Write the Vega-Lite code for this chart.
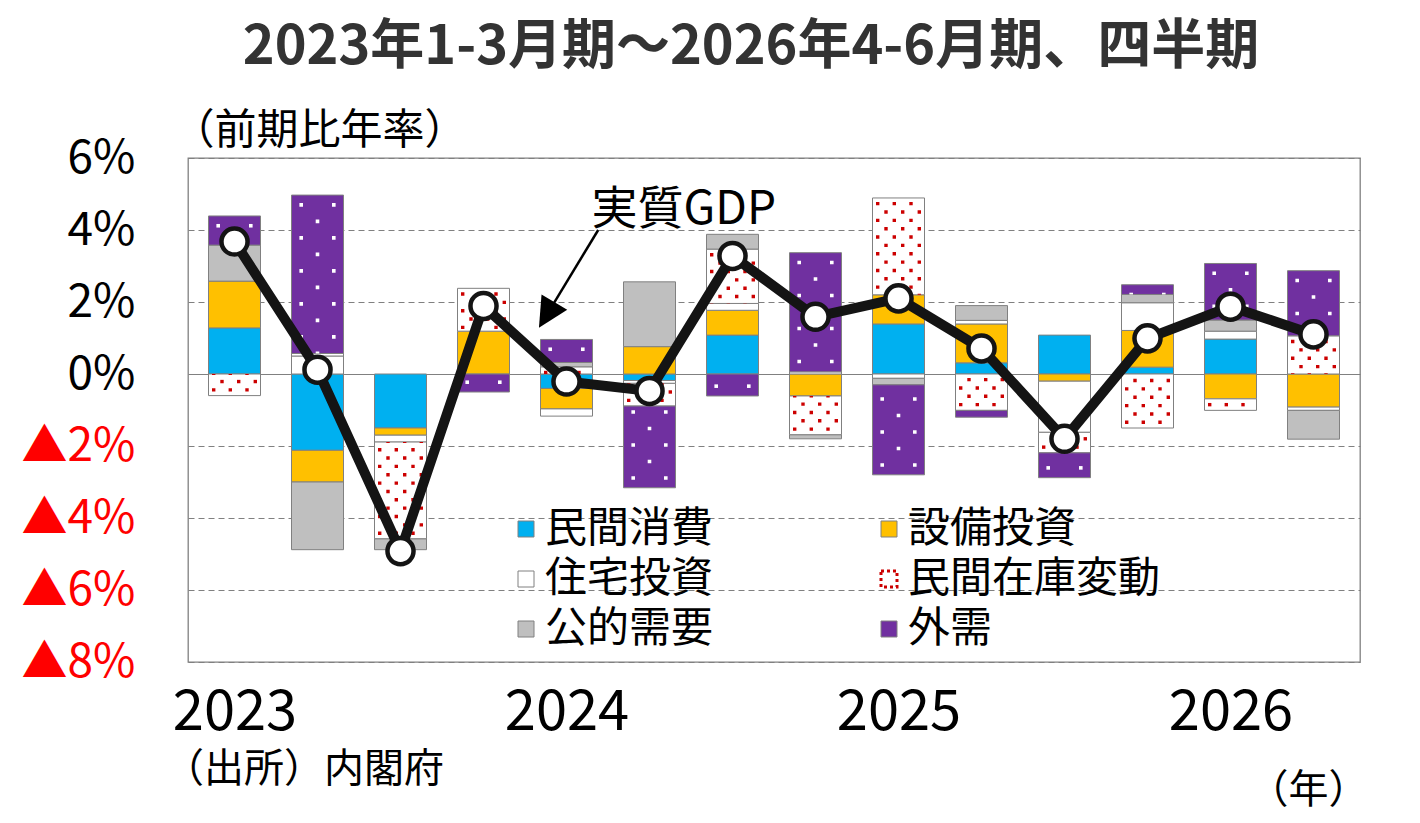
{
  "$schema": "https://vega.github.io/schema/vega-lite/v6.json",
  "autosize": "none",
  "padding": {"left": 188, "top": 158, "right": 60, "bottom": 161},
  "width": 1172,
  "height": 504,
  "config": {
    "font": "Noto Sans CJK JP",
    "view": {"stroke": "#808080", "strokeWidth": 1.3}
  },
  "title": {
    "text": "2023年1-3月期～2026年4-6月期、四半期",
    "frame": "group",
    "anchor": "middle",
    "dx": -23,
    "offset": 34,
    "fontSize": 54,
    "fontWeight": "bold",
    "color": "#333333"
  },
  "datasets": {
    "series": [
      {"s": "民間消費", "k": 1},
      {"s": "設備投資", "k": 2},
      {"s": "住宅投資", "k": 3},
      {"s": "民間在庫変動", "k": 4},
      {"s": "公的需要", "k": 5},
      {"s": "外需", "k": 6}
    ],
    "parts": [
      {"q": 0, "s": "民間消費", "v": 1.28},
      {"q": 0, "s": "設備投資", "v": 1.30},
      {"q": 0, "s": "民間在庫変動", "v": -0.60},
      {"q": 0, "s": "公的需要", "v": 1.00},
      {"q": 0, "s": "外需", "v": 0.81},
      {"q": 1, "s": "民間消費", "v": -2.12},
      {"q": 1, "s": "設備投資", "v": -0.88},
      {"q": 1, "s": "住宅投資", "v": 0.50},
      {"q": 1, "s": "民間在庫変動", "v": 0.07},
      {"q": 1, "s": "公的需要", "v": -1.88},
      {"q": 1, "s": "外需", "v": 4.40},
      {"q": 2, "s": "民間消費", "v": -1.50},
      {"q": 2, "s": "設備投資", "v": -0.20},
      {"q": 2, "s": "住宅投資", "v": -0.19},
      {"q": 2, "s": "民間在庫変動", "v": -2.69},
      {"q": 2, "s": "公的需要", "v": -0.30},
      {"q": 3, "s": "設備投資", "v": 1.19},
      {"q": 3, "s": "民間在庫変動", "v": 1.19},
      {"q": 3, "s": "外需", "v": -0.50},
      {"q": 4, "s": "民間消費", "v": -0.40},
      {"q": 4, "s": "設備投資", "v": -0.57},
      {"q": 4, "s": "住宅投資", "v": -0.20},
      {"q": 4, "s": "民間在庫変動", "v": 0.20},
      {"q": 4, "s": "公的需要", "v": 0.12},
      {"q": 4, "s": "外需", "v": 0.64},
      {"q": 5, "s": "民間消費", "v": -0.18},
      {"q": 5, "s": "設備投資", "v": 0.76},
      {"q": 5, "s": "住宅投資", "v": -0.08},
      {"q": 5, "s": "民間在庫変動", "v": -0.63},
      {"q": 5, "s": "公的需要", "v": 1.80},
      {"q": 5, "s": "外需", "v": -2.27},
      {"q": 6, "s": "民間消費", "v": 1.08},
      {"q": 6, "s": "設備投資", "v": 0.69},
      {"q": 6, "s": "住宅投資", "v": 0.19},
      {"q": 6, "s": "民間在庫変動", "v": 1.51},
      {"q": 6, "s": "公的需要", "v": 0.41},
      {"q": 6, "s": "外需", "v": -0.61},
      {"q": 7, "s": "設備投資", "v": -0.61},
      {"q": 7, "s": "住宅投資", "v": 0.06},
      {"q": 7, "s": "民間在庫変動", "v": -1.08},
      {"q": 7, "s": "公的需要", "v": -0.11},
      {"q": 7, "s": "外需", "v": 3.31},
      {"q": 8, "s": "民間消費", "v": 1.39},
      {"q": 8, "s": "設備投資", "v": 0.81},
      {"q": 8, "s": "住宅投資", "v": -0.12},
      {"q": 8, "s": "民間在庫変動", "v": 2.69},
      {"q": 8, "s": "公的需要", "v": -0.18},
      {"q": 8, "s": "外需", "v": -2.50},
      {"q": 9, "s": "民間消費", "v": 0.31},
      {"q": 9, "s": "設備投資", "v": 1.08},
      {"q": 9, "s": "住宅投資", "v": 0.10},
      {"q": 9, "s": "民間在庫変動", "v": -1.01},
      {"q": 9, "s": "公的需要", "v": 0.41},
      {"q": 9, "s": "外需", "v": -0.19},
      {"q": 10, "s": "民間消費", "v": 1.08},
      {"q": 10, "s": "設備投資", "v": -0.20},
      {"q": 10, "s": "住宅投資", "v": -1.42},
      {"q": 10, "s": "民間在庫変動", "v": -0.57},
      {"q": 10, "s": "外需", "v": -0.69},
      {"q": 11, "s": "民間消費", "v": 0.19},
      {"q": 11, "s": "設備投資", "v": 1.02},
      {"q": 11, "s": "住宅投資", "v": 0.77},
      {"q": 11, "s": "民間在庫変動", "v": -1.50},
      {"q": 11, "s": "公的需要", "v": 0.23},
      {"q": 11, "s": "外需", "v": 0.27},
      {"q": 12, "s": "民間消費", "v": 0.97},
      {"q": 12, "s": "設備投資", "v": -0.69},
      {"q": 12, "s": "住宅投資", "v": 0.22},
      {"q": 12, "s": "民間在庫変動", "v": -0.32},
      {"q": 12, "s": "公的需要", "v": 0.31},
      {"q": 12, "s": "外需", "v": 1.57},
      {"q": 13, "s": "設備投資", "v": -0.92},
      {"q": 13, "s": "住宅投資", "v": -0.09},
      {"q": 13, "s": "民間在庫変動", "v": 1.06},
      {"q": 13, "s": "公的需要", "v": -0.80},
      {"q": 13, "s": "外需", "v": 1.81}
    ],
    "gdp": [
      {"q": 0, "gdp": 3.68},
      {"q": 1, "gdp": 0.12},
      {"q": 2, "gdp": -4.92},
      {"q": 3, "gdp": 1.89},
      {"q": 4, "gdp": -0.21},
      {"q": 5, "gdp": -0.47},
      {"q": 6, "gdp": 3.28},
      {"q": 7, "gdp": 1.59},
      {"q": 8, "gdp": 2.10},
      {"q": 9, "gdp": 0.71},
      {"q": 10, "gdp": -1.80},
      {"q": 11, "gdp": 0.99},
      {"q": 12, "gdp": 1.87},
      {"q": 13, "gdp": 1.10}
    ]
  },
  "layer": [
    {
      "data": {"name": "parts"},
      "transform": [
        {"lookup": "s", "from": {"data": {"name": "series"}, "key": "s", "fields": ["k"]}},
        {"stack": "v", "groupby": ["q"], "sort": [{"field": "k", "order": "ascending"}], "as": ["v0", "v1"]}
      ],
      "encoding": {
        "x": {
          "field": "q",
          "type": "quantitative",
          "scale": {"domain": [-0.5, 13.5], "nice": false, "zero": false},
          "axis": {
            "title": "（年）",
            "values": [0, 4, 8, 12],
            "labelExpr": "'' + (2023 + datum.value / 4)",
            "grid": false,
            "ticks": false,
            "domain": false,
            "labelFlush": false,
            "labelOverlap": false,
            "labelFontSize": 56,
            "labelColor": "#000000",
            "labelPadding": 23,
            "titleFontSize": 40,
            "titleFontWeight": "normal",
            "titleColor": "#000000",
            "titleAlign": "right",
            "titleBaseline": "middle",
            "titleX": 1180,
            "titleY": 128
          }
        },
        "y": {
          "field": "v1",
          "type": "quantitative",
          "scale": {"domain": [-8, 6], "nice": false, "zero": false},
          "axis": {
            "title": "（前期比年率）",
            "values": [-8, -6, -4, -2, 0, 2, 4, 6],
            "labelExpr": "datum.value < 0 ? '▲' + (-datum.value) + '%' : datum.value + '%'",
            "labelColor": {"condition": {"test": "datum.value < 0", "value": "#FF0000"}, "value": "#000000"},
            "labelFontSize": 46,
            "labelPadding": 53,
            "labelFlush": false,
            "labelOverlap": false,
            "ticks": false,
            "domain": false,
            "grid": true,
            "gridColor": "#808080",
            "gridWidth": 1.2,
            "gridDash": {"condition": {"test": "datum.value === 0", "value": []}, "value": [6, 4]},
            "titleAngle": 0,
            "titleAlign": "left",
            "titleBaseline": "middle",
            "titleX": -16,
            "titleY": -28,
            "titleFontSize": 42,
            "titleFontWeight": "normal",
            "titleColor": "#000000"
          }
        },
        "y2": {"field": "v0"}
      },
      "layer": [
        {
          "mark": {"type": "bar", "width": 52, "stroke": "#808080", "strokeWidth": 1},
          "encoding": {
            "fill": {
              "field": "s",
              "type": "nominal",
              "scale": {
                "domain": ["民間消費", "設備投資", "住宅投資", "民間在庫変動", "公的需要", "外需"],
                "range": ["#00B0F0", "#FFC000", "#FFFFFF", "#FFFFFF", "#BFBFBF", "#7030A0"]
              },
              "legend": {
                "title": null,
                "orient": "none",
                "direction": "horizontal",
                "legendX": 317,
                "legendY": 350,
                "columns": 2,
                "gridAlign": "all",
                "padding": 0,
                "symbolType": "square",
                "symbolSize": 256,
                "symbolStrokeColor": "#808080",
                "symbolStrokeWidth": 1,
                "labelFontSize": 42,
                "labelColor": "#000000",
                "labelOffset": -2,
                "labelLimit": 400,
                "columnPadding": 70,
                "rowPadding": 8,
                "encode": {
                  "symbols": {
                    "update": {
                      "stroke": {"signal": "datum.value === '民間在庫変動' ? '#CC0000' : '#808080'"},
                      "strokeDash": {"signal": "datum.value === '民間在庫変動' ? [3, 3] : [1, 0]"},
                      "strokeWidth": {"signal": "datum.value === '民間在庫変動' ? 3 : 1"}
                    }
                  }
                }
              }
            }
          }
        },
        {
          "transform": [{"filter": "datum.s === '民間在庫変動'"}],
          "layer": [
            {"mark": {"type": "rule", "xOffset": -20.8, "stroke": "#CC0000", "strokeWidth": 3.4, "strokeDash": [3.4, 13.3], "strokeDashOffset": -4}},
            {"mark": {"type": "rule", "xOffset": -12.5, "stroke": "#CC0000", "strokeWidth": 3.4, "strokeDash": [3.4, 13.3], "strokeDashOffset": -12.35}},
            {"mark": {"type": "rule", "xOffset": -4.2, "stroke": "#CC0000", "strokeWidth": 3.4, "strokeDash": [3.4, 13.3], "strokeDashOffset": -4}},
            {"mark": {"type": "rule", "xOffset": 4.2, "stroke": "#CC0000", "strokeWidth": 3.4, "strokeDash": [3.4, 13.3], "strokeDashOffset": -12.35}},
            {"mark": {"type": "rule", "xOffset": 12.5, "stroke": "#CC0000", "strokeWidth": 3.4, "strokeDash": [3.4, 13.3], "strokeDashOffset": -4}},
            {"mark": {"type": "rule", "xOffset": 20.8, "stroke": "#CC0000", "strokeWidth": 3.4, "strokeDash": [3.4, 13.3], "strokeDashOffset": -12.35}}
          ]
        },
        {
          "transform": [{"filter": "datum.s === '外需'"}],
          "layer": [
            {"mark": {"type": "rule", "xOffset": -16.3, "stroke": "#FFFFFF", "strokeWidth": 3.6, "strokeDash": [3.6, 29.4], "strokeDashOffset": -8}},
            {"mark": {"type": "rule", "xOffset": 0, "stroke": "#FFFFFF", "strokeWidth": 3.6, "strokeDash": [3.6, 29.4], "strokeDashOffset": -24.5}},
            {"mark": {"type": "rule", "xOffset": 16.3, "stroke": "#FFFFFF", "strokeWidth": 3.6, "strokeDash": [3.6, 29.4], "strokeDashOffset": -8}}
          ]
        }
      ]
    },
    {
      "data": {"values": [{"label": "実質GDP"}]},
      "mark": {"type": "rule", "stroke": "#000000", "strokeWidth": 2.5},
      "encoding": {
        "x": {"datum": 4.382, "type": "quantitative"},
        "x2": {"datum": 3.848},
        "y": {"datum": 4.0, "type": "quantitative"},
        "y2": {"datum": 1.97}
      }
    },
    {
      "data": {"values": [{"label": "実質GDP"}]},
      "mark": {"type": "point", "shape": "M0,-1L1,1L-1,1Z", "size": 900, "angle": 211, "filled": true, "color": "#000000", "opacity": 1},
      "encoding": {
        "x": {"datum": 3.761, "type": "quantitative"},
        "y": {"datum": 1.64, "type": "quantitative"}
      }
    },
    {
      "data": {"values": [{"label": "実質GDP"}]},
      "mark": {"type": "text", "fontSize": 46, "align": "center", "baseline": "middle", "color": "#000000"},
      "encoding": {
        "x": {"datum": 5.413, "type": "quantitative"},
        "y": {"datum": 4.556, "type": "quantitative"},
        "text": {"field": "label"}
      }
    },
    {
      "data": {"values": [{"label": "（出所）内閣府"}]},
      "mark": {"type": "text", "fontSize": 40, "align": "left", "baseline": "middle", "color": "#000000", "clip": false},
      "encoding": {
        "x": {"datum": -0.85, "type": "quantitative"},
        "y": {"datum": -11.0, "type": "quantitative"},
        "text": {"field": "label"}
      }
    },
    {
      "data": {"name": "gdp"},
      "mark": {"type": "line", "color": "#141414", "strokeWidth": 10},
      "encoding": {
        "x": {"field": "q", "type": "quantitative"},
        "y": {"field": "gdp", "type": "quantitative"}
      }
    },
    {
      "data": {"name": "gdp"},
      "mark": {"type": "point", "shape": "circle", "size": 680, "filled": true, "fill": "#FFFFFF", "stroke": "#141414", "strokeWidth": 4.5, "opacity": 1},
      "encoding": {
        "x": {"field": "q", "type": "quantitative"},
        "y": {"field": "gdp", "type": "quantitative"}
      }
    }
  ]
}
